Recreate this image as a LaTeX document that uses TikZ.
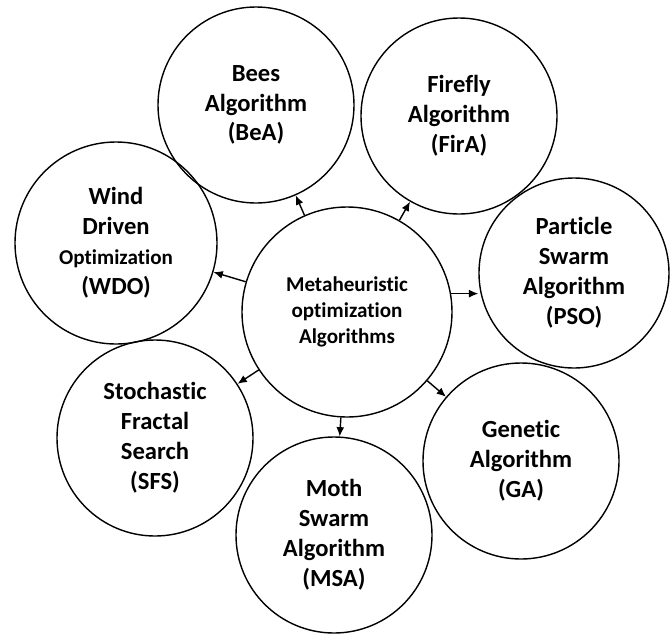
\documentclass[tikz,border=0pt]{standalone}
\usepackage{fontspec}
\setmainfont[Ligatures=NoCommon]{Carlito}
\usetikzlibrary{arrows.meta}

\begin{document}
\begin{tikzpicture}[
  x=0.03cm, y=-0.03cm,
  algo/.style={draw=black, circle, line width=1.2pt, inner sep=0pt, minimum size=5.88cm, align=center, font=\bfseries\fontsize{21}{25.5}\selectfont},
  hub/.style={algo, minimum size=6.3cm, font=\bfseries\fontsize{18}{22}\selectfont},
  >={Latex[length=2.8mm, width=2.4mm]}
]
\useasboundingbox (0,0) rectangle (670,635);

\node[hub]  (meta) at (347,312) {Metaheuristic\\optimization\\Algorithms};
\node[algo] (bea)  at (256,105) {Bees\\Algorithm\\(BeA)};
\node[algo] (fira) at (459,116) {Firefly\\Algorithm\\(FirA)};
\node[algo, minimum size=6.06cm] (wdo) at (116,243) {Wind\\Driven\\{\fontsize{18}{22}\selectfont Optimization}\\(WDO)};
\node[algo, minimum size=5.7cm] (pso) at (574,273) {Particle\\Swarm\\Algorithm\\(PSO)};
\node[algo] (sfs)  at (155,438) {Stochastic\\Fractal\\Search\\(SFS)};
\node[algo] (ga)   at (521,461) {Genetic\\Algorithm\\(GA)};
\node[algo] (msa)  at (334,535) {Moth\\Swarm\\Algorithm\\(MSA)};

% arrows from the hub
\draw[->, line width=1.2pt] (meta) -- (bea);
\draw[->, line width=1.2pt] (meta) -- (fira);
\draw[->, line width=1.2pt] (meta) -- (wdo);
\draw[->, line width=1.2pt] (meta.10) -- (meta.10 -| pso.west);
\draw[->, line width=1.2pt] (meta) -- (ga);
\draw[->, line width=1.2pt] (meta) -- (msa);
\draw[->, line width=1.2pt] (meta) -- (sfs);
\end{tikzpicture}
\end{document}
